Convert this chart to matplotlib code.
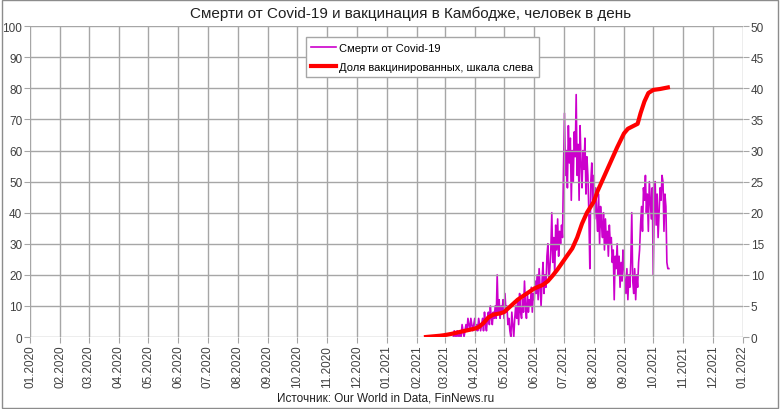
import numpy as np
import pandas as pd
import matplotlib
matplotlib.use('Agg')
import matplotlib.pyplot as plt
import matplotlib.dates as mdates

plt.rcParams['font.family'] = ['Liberation Sans', 'DejaVu Sans']
plt.rcParams['font.size'] = 8.5

# daily deaths, starting 2021-03-10 (right scale)
deaths_start = '2021-03-10'
deaths = [
    0, 1, 0, 0, 1, 0, 0,
    1, 0, 2, 1, 0, 1, 2,
    1, 3, 2, 1, 3, 2, 1, 2,
    3, 1, 2, 1, 3, 2, 1,
    2, 3, 1, 4, 2, 1, 3,
    4, 2, 5, 3, 2, 4, 3,
    5, 3, 10, 4, 6, 3, 5,
    4, 6, 3, 7, 4, 5, 2,
    3, 1, 0, 4, 2, 0, 3,
    5, 3, 6, 2, 7, 4, 3,
    6, 4, 9, 5, 3, 7, 4,
    6, 5, 8, 4, 7, 6, 9,
    7, 10, 6, 11, 8, 5, 9,
    12, 7, 10, 8, 13, 15, 9,
    11, 14, 20, 12, 16, 10, 18,
    14, 19, 13, 17, 15, 18, 16,
    27, 36, 26, 30, 24, 34, 28,
    32, 22, 30, 25, 33, 29, 39,
    26, 31, 22, 34, 28, 24, 30,
    27, 32, 23, 29, 26, 20, 11,
    25, 28, 22, 26, 19, 24, 20,
    17, 23, 15, 21, 18, 16, 20,
    14, 19, 15, 17, 13, 18, 15,
    16, 12, 14, 6, 13, 11, 15,
    10, 13, 8, 12, 9, 14, 11,
    9, 7, 11, 6, 10, 8, 12,
    20, 9, 7, 11, 6, 10, 8,
    12, 14, 18, 21, 17, 24, 22,
    26, 20, 23, 17, 25, 22, 19,
    24, 10, 21, 25, 18, 23, 16,
    20, 24, 22, 26, 25, 17, 23,
    21, 12, 11, 11,
]
deaths_dates = pd.date_range(deaths_start, periods=len(deaths), freq='D')

# share of vaccinated, % (left scale)
vacc_dates = pd.to_datetime([
    '2021-02-10', '2021-02-17', '2021-02-24', '2021-03-01', '2021-03-08',
    '2021-03-15', '2021-03-22', '2021-04-01', '2021-04-05', '2021-04-10',
    '2021-04-15', '2021-04-20', '2021-04-27', '2021-05-01', '2021-05-08',
    '2021-05-15', '2021-05-22', '2021-06-01', '2021-06-10', '2021-06-15',
    '2021-06-20', '2021-06-25', '2021-07-01', '2021-07-05', '2021-07-10',
    '2021-07-15', '2021-07-20', '2021-07-25', '2021-08-01', '2021-08-05',
    '2021-08-10', '2021-08-15', '2021-08-20', '2021-08-25', '2021-09-01',
    '2021-09-05', '2021-09-10', '2021-09-15', '2021-09-18', '2021-09-22',
    '2021-09-26', '2021-10-01', '2021-10-08', '2021-10-16'])
vacc = [0, 0.2, 0.4, 0.6, 1.0, 1.5, 2.0, 2.7, 3.2, 4.5,
        6.3, 7.2, 7.6, 8.0, 10.0, 12.0, 13.5, 15.6, 16.8, 18.0,
        19.8, 21.8, 24.5, 26.3, 28.5, 32.0, 36.5, 40.0, 43.5, 47.0,
        50.5, 54.0, 57.5, 61.0, 65.5, 67.0, 67.8, 68.6, 72.0, 75.8,
        78.5, 79.5, 79.8, 80.3]

title = 'Смерти от Covid-19 и вакцинация в Камбодже, человек в день'
source = 'Источник: Our World in Data, FinNews.ru'

fig = plt.figure(figsize=(7.8, 4.1), dpi=100)
ax = fig.add_axes([0.0385, 0.1756, 0.914, 0.758])
ax2 = ax.twinx()

grid_c = '#a6a6a6'
ax.set_xlim(pd.Timestamp('2020-01-01'), pd.Timestamp('2022-01-01'))
ax.set_ylim(0, 100)
ax2.set_ylim(0, 50)
ax.set_yticks(np.arange(0, 101, 10))
ax2.set_yticks(np.arange(0, 51, 5))
ax.xaxis.set_major_locator(mdates.MonthLocator())
ax.xaxis.set_major_formatter(mdates.DateFormatter('%m.%Y'))
plt.setp(ax.get_xticklabels(), rotation=90)
ax.grid(True, color=grid_c, lw=1)
ax.set_axisbelow(True)
for a in (ax, ax2):
    for s in a.spines.values():
        s.set_visible(False)
    a.tick_params(length=4, color=grid_c, labelsize=8.5, labelcolor='#404040', pad=1.5)

l1, = ax2.plot(deaths_dates, deaths, color='#cc00cc', lw=1.2, label='Смерти от Covid-19')
l2, = ax.plot(vacc_dates, vacc, color='#ff0000', lw=3, label='Доля вакцинированных, шкала слева')
ax2.set_zorder(1)
ax.set_zorder(2)
ax.patch.set_visible(False)

leg = ax.legend(handles=[l1, l2], loc='upper left', bbox_to_anchor=(0.392, 0.907),
                bbox_transform=fig.transFigure, fancybox=False, framealpha=1,
                edgecolor='#a6a6a6', fontsize=8, handlelength=2.2, borderpad=0.5,
                labelspacing=0.8, handletextpad=0.3, borderaxespad=0)

fig.text(0.527, 0.967, title, ha='center', va='center', fontsize=11, color='#202020')
fig.text(0.494, 0.027, source, ha='center', va='center', fontsize=8.5, color='#202020')
fig.patches.append(plt.Rectangle((0.002, 0.002), 0.996, 0.996, transform=fig.transFigure,
                                 fill=False, edgecolor='#8c8c8c', lw=1))

fig.savefig('out.png', dpi=100)
